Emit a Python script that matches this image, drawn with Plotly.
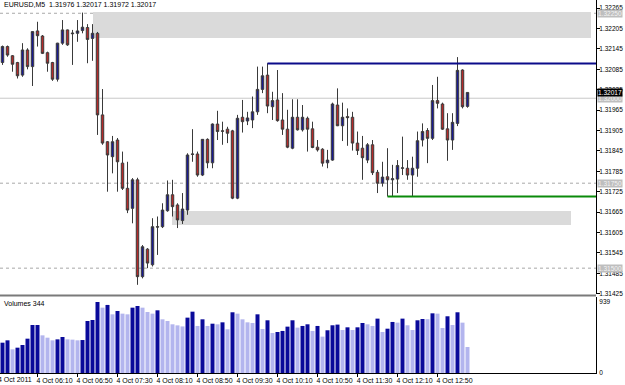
import pandas as pd
import plotly.graph_objects as go

SYMBOL = "EURUSD,M5"
START = "2011-10-04 05:35"

OPEN = [1.32105, 1.32152, 1.32125, 1.32105, 1.32068, 1.32142, 1.32093, 1.32198, 1.32183, 1.32134,
        1.32105, 1.32056, 1.32162, 1.32201, 1.32192, 1.32191, 1.32199, 1.32208, 1.32176, 1.32191,
        1.31951, 1.31872, 1.31828, 1.31877, 1.31809, 1.31735, 1.31676, 1.31760, 1.31475, 1.31556,
        1.31510, 1.31622, 1.31622, 1.31669, 1.31716, 1.31686, 1.31640, 1.31671, 1.31836, 1.31836,
        1.31774, 1.31879, 1.31810, 1.31924, 1.31904, 1.31909, 1.31904, 1.31706, 1.31944, 1.31933,
        1.31936, 1.31960, 1.32026, 1.32068, 1.31975, 1.31995, 1.31936, 1.31909, 1.31853, 1.31944,
        1.31907, 1.31941, 1.31910, 1.31856, 1.31850, 1.31810, 1.31818, 1.31980, 1.31919, 1.31946,
        1.31944, 1.31868, 1.31853, 1.31818, 1.31863, 1.31782, 1.31750, 1.31769, 1.31760, 1.31762,
        1.31794, 1.31794, 1.31774, 1.31794, 1.31877, 1.31905, 1.31882, 1.31993, 1.31983, 1.31910,
        1.31877, 1.31926, 1.32083, 1.31976]
HIGH = [1.32155, 1.32155, 1.32127, 1.32107, 1.32162, 1.32147, 1.32196, 1.32225, 1.32186, 1.32137,
        1.32107, 1.32163, 1.32230, 1.32202, 1.32201, 1.32230, 1.32252, 1.32218, 1.32218, 1.32195,
        1.32027, 1.31874, 1.31889, 1.31883, 1.31843, 1.31813, 1.31765, 1.31766, 1.31568, 1.31559,
        1.31647, 1.31652, 1.31691, 1.31758, 1.31760, 1.31691, 1.31721, 1.31838, 1.31909, 1.31843,
        1.31879, 1.31882, 1.31926, 1.31963, 1.31931, 1.31916, 1.31907, 1.31951, 1.31995, 1.31960,
        1.32005, 1.32093, 1.32093, 1.32103, 1.32019, 1.32083, 1.32015, 1.31966, 1.31997, 1.31997,
        1.31980, 1.31946, 1.31931, 1.31877, 1.31853, 1.31848, 1.31987, 1.32029, 1.31987, 1.31970,
        1.31960, 1.31902, 1.31889, 1.31868, 1.31877, 1.31789, 1.31813, 1.31853, 1.31804, 1.31818,
        1.31887, 1.31818, 1.31828, 1.31902, 1.31926, 1.31912, 1.32039, 1.32063, 1.31987, 1.31956,
        1.31956, 1.32121, 1.32085, 1.32017]
LOW = [1.32098, 1.32122, 1.32078, 1.32058, 1.32063, 1.32085, 1.32036, 1.32152, 1.32130, 1.32078,
       1.32051, 1.32049, 1.32157, 1.32154, 1.32098, 1.32166, 1.32191, 1.32103, 1.32110, 1.31892,
       1.31863, 1.31725, 1.31779, 1.31725, 1.31730, 1.31662, 1.31632, 1.31451, 1.31470, 1.31500,
       1.31505, 1.31539, 1.31618, 1.31666, 1.31652, 1.31618, 1.31630, 1.31657, 1.31813, 1.31769,
       1.31771, 1.31794, 1.31794, 1.31877, 1.31863, 1.31868, 1.31703, 1.31703, 1.31899, 1.31921,
       1.31912, 1.31951, 1.32015, 1.31956, 1.31936, 1.31931, 1.31892, 1.31853, 1.31850, 1.31905,
       1.31902, 1.31843, 1.31853, 1.31843, 1.31799, 1.31794, 1.31816, 1.31918, 1.31874, 1.31860,
       1.31846, 1.31833, 1.31760, 1.31809, 1.31774, 1.31721, 1.31740, 1.31711, 1.31711, 1.31721,
       1.31774, 1.31760, 1.31711, 1.31769, 1.31858, 1.31809, 1.31877, 1.31970, 1.31907, 1.31816,
       1.31848, 1.31918, 1.31970, 1.31972]
CLOSE = [1.32152, 1.32127, 1.32100, 1.32066, 1.32142, 1.32093, 1.32196, 1.32184, 1.32132, 1.32103,
         1.32056, 1.32162, 1.32201, 1.32157, 1.32190, 1.32198, 1.32209, 1.32173, 1.32191, 1.31951,
         1.31868, 1.31833, 1.31872, 1.31813, 1.31735, 1.31671, 1.31760, 1.31475, 1.31563, 1.31515,
         1.31622, 1.31621, 1.31671, 1.31716, 1.31681, 1.31642, 1.31674, 1.31833, 1.31835, 1.31774,
         1.31879, 1.31810, 1.31924, 1.31902, 1.31903, 1.31897, 1.31706, 1.31941, 1.31931, 1.31942,
         1.31960, 1.32026, 1.32066, 1.31977, 1.31993, 1.31934, 1.31909, 1.31856, 1.31944, 1.31907,
         1.31944, 1.31909, 1.31855, 1.31848, 1.31809, 1.31818, 1.31983, 1.31919, 1.31944, 1.31943,
         1.31868, 1.31846, 1.31825, 1.31863, 1.31781, 1.31750, 1.31768, 1.31760, 1.31763, 1.31802,
         1.31795, 1.31774, 1.31794, 1.31875, 1.31902, 1.31882, 1.31993, 1.31985, 1.31909, 1.31877,
         1.31929, 1.32082, 1.31975, 1.32017]
VOLUME = [401, 432, 313, 335, 370, 454, 635, 635, 498, 467,
          432, 445, 476, 445, 441, 432, 436, 688, 701, 939,
          864, 900, 776, 820, 785, 776, 864, 886, 864, 807,
          785, 829, 710, 688, 644, 630, 616, 732, 811, 622,
          710, 622, 652, 644, 670, 578, 803, 785, 710, 670,
          661, 776, 582, 697, 529, 542, 556, 613, 697, 600,
          622, 644, 556, 622, 481, 565, 631, 640, 569, 604,
          569, 604, 661, 644, 622, 719, 542, 586, 675, 666,
          719, 631, 569, 697, 714, 712, 789, 785, 595, 750,
          635, 803, 666, 344]

PRICE_TICKS = [1.31425, 1.31485, 1.31545, 1.31605, 1.31665, 1.31725, 1.31785, 1.31845,
               1.31905, 1.31965, 1.32025, 1.32085, 1.32145, 1.32205, 1.32265]
TIME_TICKS = ["06:10", "06:50", "07:30", "08:10", "08:50", "09:30", "10:10",
              "10:50", "11:30", "12:10", "12:50"]
DATE_LABEL = "4 Oct 2011"
DOTTED_LEVELS = [1.32250, 1.31750, 1.31500]
SOLID_LEVEL = 1.32000
ZONES = [("2011-10-04 07:05:30", "2011-10-04 15:23:30", 1.32254, 1.32177),
         ("2011-10-04 08:24:30", "2011-10-04 15:03:30", 1.31668, 1.31627)]
RESISTANCE = ("2011-10-04 10:00", 1.32102)
SUPPORT = ("2011-10-04 12:00", 1.31711)

times = pd.date_range(START, periods=len(OPEN), freq="5min")
bar = pd.Timedelta(minutes=5)
x_start = times[0] - 0.5 * bar
x_end = times[0] + 118.7 * bar

FONT = "Liberation Sans"
AXFONT = dict(family=FONT, size=6.5, color="#000")
vol_colors = ["#0A0A9A" if i == 0 or VOLUME[i] >= VOLUME[i - 1] else "#B3B5EE"
              for i in range(len(VOLUME))]

fig = go.Figure()
fig.add_trace(go.Candlestick(
    x=times, open=OPEN, high=HIGH, low=LOW, close=CLOSE,
    increasing=dict(fillcolor="#1B1B8F", line=dict(color="#3a3a3a", width=1)),
    decreasing=dict(fillcolor="#B32A2A", line=dict(color="#3a3a3a", width=1)),
    whiskerwidth=0, xaxis="x", yaxis="y", showlegend=False, hoverinfo="skip"))
fig.add_trace(go.Bar(x=times, y=VOLUME, marker=dict(color=vol_colors, line=dict(width=0)),
                     xaxis="x", yaxis="y2", showlegend=False, hoverinfo="skip"))

H_PLOT = 373.0
main_bottom = (H_PLOT - 294) / H_PLOT
vol_top = (H_PLOT - 297) / H_PLOT

shapes = []
for x0, x1, y0, y1 in ZONES:
    shapes.append(dict(type="rect", xref="x", yref="y", x0=x0, x1=x1, y0=y0, y1=y1,
                       fillcolor="#DADADA", line=dict(width=0), layer="below"))
for lv in DOTTED_LEVELS:
    shapes.append(dict(type="line", xref="paper", yref="y", x0=0, x1=1, y0=lv, y1=lv,
                       line=dict(color="#A8A8A8", width=1, dash="dot"), layer="below"))
shapes.append(dict(type="line", xref="paper", yref="y", x0=0, x1=1, y0=SOLID_LEVEL, y1=SOLID_LEVEL,
                   line=dict(color="#C8C8C8", width=1), layer="below"))
shapes.append(dict(type="line", xref="x", yref="y", x0=RESISTANCE[0], x1=x_end,
                   y0=RESISTANCE[1], y1=RESISTANCE[1], line=dict(color="#0B0B8A", width=2)))
shapes.append(dict(type="line", xref="x", yref="y", x0=SUPPORT[0], x1=x_end,
                   y0=SUPPORT[1], y1=SUPPORT[1], line=dict(color="#0A8A0A", width=2)))
sep = (H_PLOT - 295.5) / H_PLOT
shapes.append(dict(type="line", xref="paper", yref="paper", x0=0, x1=1, y0=sep, y1=sep,
                   line=dict(color="#7A7A7A", width=2)))

annotations = [
    dict(xref="paper", yref="paper", x=0, y=1, xanchor="left", yanchor="top", xshift=2, yshift=1,
         text=f"{SYMBOL}  {OPEN[-1]:.5f} {HIGH[-1]:.5f} {LOW[-1]:.5f} {CLOSE[-1]:.5f}",
         showarrow=False, font=dict(family=FONT, size=7, color="#000")),
    dict(xref="paper", yref="paper", x=0, y=vol_top, xanchor="left", yanchor="top", xshift=2, yshift=-1,
         text=f"Volumes {VOLUME[-1]}", showarrow=False, font=dict(family=FONT, size=7, color="#000")),
    dict(xref="paper", yref="paper", x=0, y=0, xanchor="left", yanchor="top", xshift=-4, yshift=-1,
         text=DATE_LABEL, showarrow=False, font=dict(family=FONT, size=7, color="#000")),
]
for lv in DOTTED_LEVELS + [SOLID_LEVEL]:
    annotations.append(dict(xref="paper", yref="y", x=1, y=lv, xanchor="left", yanchor="middle",
                            xshift=1, text=f"{lv:.5f}", showarrow=False, bgcolor="#BEBEBE",
                            borderpad=0, font=dict(family=FONT, size=6.5, color="#F4F4F4")))
annotations.append(dict(xref="paper", yref="y", x=1, y=CLOSE[-1], xanchor="left", yanchor="middle",
                        xshift=1, text=f"{CLOSE[-1]:.5f}", showarrow=False, bgcolor="#000000",
                        borderpad=0, font=dict(family=FONT, size=6.5, color="#FFFFFF")))

fig.update_layout(
    width=625, height=385, margin=dict(l=0, r=29, t=0, b=12, pad=0),
    paper_bgcolor="white", plot_bgcolor="white", showlegend=False, bargap=0.2,
    xaxis=dict(anchor="y2", type="date", range=[x_start, x_end], showgrid=False, zeroline=False,
               showline=True, linecolor="#000", linewidth=1, ticks="outside", ticklen=3,
               tickcolor="#000", tickvals=[pd.Timestamp("2011-10-04 " + t) for t in TIME_TICKS],
               ticktext=["4 Oct " + t for t in TIME_TICKS], ticklabelshift=17,
               ticklabelstandoff=-2,
               tickfont=dict(family=FONT, size=7, color="#000"), automargin=False,
               rangeslider=dict(visible=False)),
    yaxis=dict(domain=[main_bottom, 1], range=[1.31424, 1.32289], side="right", showgrid=False,
               zeroline=False, showline=True, linecolor="#000", linewidth=1, ticks="outside",
               ticklen=3, tickcolor="#000", tickvals=PRICE_TICKS,
               ticktext=[f"{v:.5f}" for v in PRICE_TICKS], ticklabelstandoff=-2,
               tickfont=AXFONT, automargin=False),
    yaxis2=dict(domain=[0, vol_top], range=[0, 1005], side="right", showgrid=False, zeroline=False,
                showline=True, linecolor="#000", linewidth=1, ticks="", tickvals=[0, max(VOLUME)],
                ticktext=["0", str(max(VOLUME))], ticklabelstandoff=1,
                tickfont=AXFONT, automargin=False),
    shapes=shapes, annotations=annotations,
)

fig.write_html("out.html")
